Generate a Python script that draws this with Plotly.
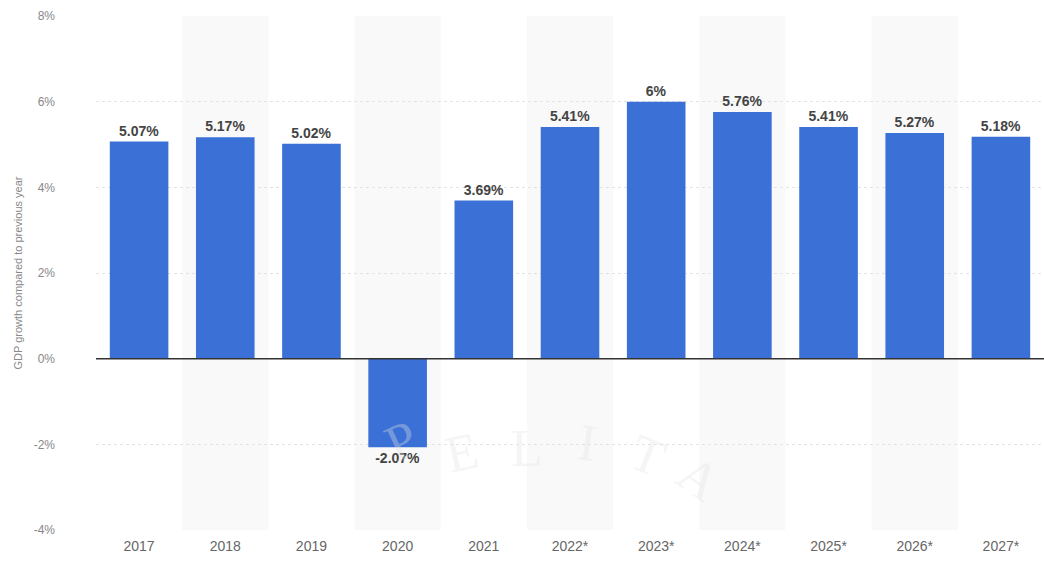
import plotly.graph_objects as go

years = ["2017", "2018", "2019", "2020", "2021", "2022*", "2023*", "2024*", "2025*", "2026*", "2027*"]
growth = [5.07, 5.17, 5.02, -2.07, 3.69, 5.41, 6.0, 5.76, 5.41, 5.27, 5.18]
labels = ["5.07%", "5.17%", "5.02%", "-2.07%", "3.69%", "5.41%", "6%", "5.76%", "5.41%", "5.27%", "5.18%"]
y_ticks = [-4, -2, 0, 2, 4, 6, 8]
y_tick_text = ["-4%", "-2%", "0%", "2%", "4%", "6%", "8%"]
watermark_letters = ["P", "E", "L", "I", "T", "A"]

fig = go.Figure()

# alternating column shading
for i, y in enumerate(years):
    if i % 2 == 1:
        fig.add_shape(type="rect", xref="x", yref="paper", x0=i - 0.5, x1=i + 0.5, y0=0, y1=1,
                      fillcolor="#f9f9f9", line_width=0, layer="below")

fig.add_trace(go.Bar(
    x=list(range(len(years))), y=growth, width=0.68,
    marker=dict(color="#3b71d6", line_width=0),
    text=labels, textposition="outside",
    textfont=dict(family="Liberation Sans, Arial", size=14, color="#444444", weight="bold"),
    cliponaxis=False,
))

# faint watermark letters
wm_pos = [(3.05, -1.9, -25), (3.75, -2.2, -12), (4.5, -2.1, 0), (5.2, -1.95, 8), (5.9, -2.25, 22), (6.5, -2.8, 35)]
for ch, (xx, yy, rot) in zip(watermark_letters, wm_pos):
    fig.add_annotation(x=xx, y=yy, text=ch, showarrow=False, textangle=rot,
                       font=dict(family="Liberation Serif, serif", size=52, color="rgba(225,225,225,0.35)"))

fig.add_hline(y=0, line=dict(color="#333333", width=1.5))

fig.update_layout(
    width=1044, height=563,
    margin=dict(l=96, r=0, t=16, b=33),
    paper_bgcolor="white", plot_bgcolor="white",
    showlegend=False,
    xaxis=dict(
        tickmode="array", tickvals=list(range(len(years))), ticktext=years,
        range=[-0.5, len(years) - 0.5], showgrid=False, zeroline=False,
        tickfont=dict(family="Liberation Sans, Arial", size=14, color="#666666"),
        ticks="", ticklen=0, ticklabelstandoff=6,
    ),
    yaxis=dict(
        range=[-4, 8], tickmode="array", tickvals=y_ticks, ticktext=y_tick_text,
        showgrid=True, gridcolor="#e3e3e3", griddash="dot", gridwidth=1, zeroline=False,
        tickfont=dict(family="Liberation Sans, Arial", size=12, color="#888888"),
        ticklabelstandoff=40,
        title=dict(text="GDP growth compared to previous year",
                   font=dict(family="Liberation Sans, Arial", size=11, color="#888888"), standoff=8),
    ),
)

fig.write_html("out.html")
